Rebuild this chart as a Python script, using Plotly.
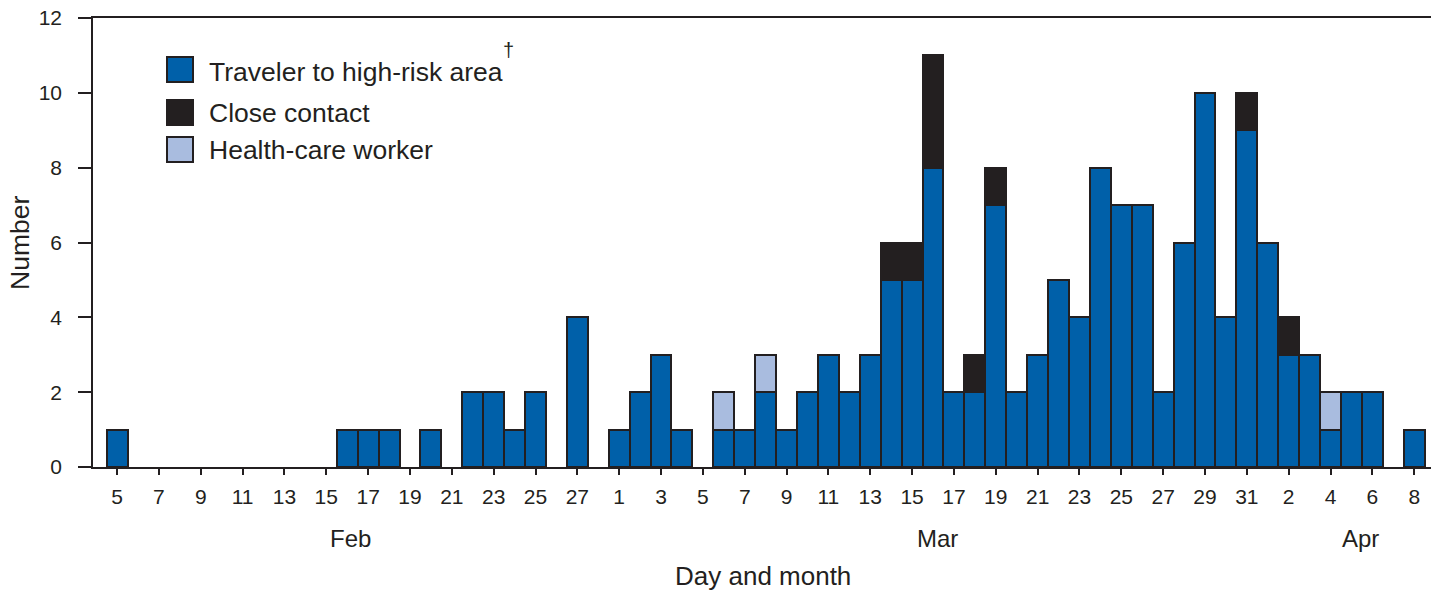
import plotly.graph_objects as go

# ---- data -------------------------------------------------------------
tick_labels = ["5", "7", "9", "11", "13", "15", "17", "19", "21", "23", "25", "27",
               "1", "3", "5", "7", "9", "11", "13", "15", "17", "19", "21", "23",
               "25", "27", "29", "31", "2", "4", "6", "8"]
month_labels = ["Feb", "Mar", "Apr"]

traveler = [1, 0, 0, 0, 0, 0, 0, 0, 0, 0, 0,
            1, 1, 1, 0, 1, 0, 2, 2, 1, 2, 0, 4, 0,
            1, 2, 3, 1, 0, 1, 1, 2, 1, 2, 3, 2, 3,
            5, 5, 8, 2, 2, 7, 2, 3, 5, 4, 8, 7, 7, 2,
            6, 10, 4, 9, 6, 3, 3, 1, 2, 2, 0, 1]
close_contact = [0] * 37 + [1, 1, 3, 0, 1, 1] + [0] * 11 + [1, 0, 1] + [0] * 6
health_care = [0] * 29 + [1, 0, 1] + [0] * 26 + [1] + [0] * 4

days = list(range(len(traveler)))

# ---- style ------------------------------------------------------------
OFF = 8                      # page body margin of the browser
W, H = 1439 - OFF, 590 - OFF
PL, PR, PT, PB = 93, 1432, 18, 467   # plot-area edges in page pixels
L, R, T, B = PL - OFF, W - (PR - OFF), PT - OFF, H - (PB - OFF)
FONT = "Liberation Sans, Arial, Helvetica, sans-serif"
INK = "#231f20"
BLUE = "#0060a9"
DARK = "#231f20"
LIGHT = "#a9bcdf"


def nz(vals):
    return [v if v else None for v in vals]


fig = go.Figure()
series = [("Traveler to high-risk area", traveler, BLUE),
          ("Close contact", close_contact, DARK),
          ("Health-care worker", health_care, LIGHT)]
for name, vals, col in series:
    fig.add_trace(go.Bar(x=days, y=nz(vals), name=name, width=1,
                         marker=dict(color=col, line=dict(color=INK, width=2)),
                         showlegend=False))

fig.update_layout(
    width=W, height=H, barmode="stack", bargap=0,
    margin=dict(l=L, r=R, t=T, b=B, autoexpand=False),
    plot_bgcolor="white", paper_bgcolor="white",
    font=dict(family=FONT, size=21, color=INK),
)
fig.update_xaxes(range=[-1.15, 62.85], tickmode="array",
                 tickvals=days[::2], ticktext=tick_labels,
                 ticks="outside", ticklen=6, tickwidth=1.5, tickcolor=INK,
                 ticklabelstandoff=4, ticklabeloverflow="allow",
                 showline=True, linecolor=INK, linewidth=1.5, mirror=True,
                 showgrid=False, zeroline=False,
                 tickfont=dict(size=21, color=INK))
fig.update_yaxes(range=[0, 12], tickmode="array", tickvals=list(range(0, 13, 2)),
                 ticks="outside", ticklen=13, tickwidth=1.5, tickcolor=INK,
                 ticklabelstandoff=12, ticklabeloverflow="allow",
                 showline=True, linecolor=INK, linewidth=1.5, mirror=True,
                 showgrid=False, zeroline=False,
                 tickfont=dict(size=21, color=INK))

pw, ph = PR - PL, PB - PT


def px(x):
    return (x - PL) / pw


def py(y):
    return (PB - y) / ph


ann = []
# axis titles
ann.append(dict(text="Day and month", x=px(763), y=py(576), xref="paper", yref="paper",
                showarrow=False, font=dict(size=26, color=INK), xanchor="center", yanchor="middle"))
ann.append(dict(text="Number", x=px(20), y=py(243), xref="paper", yref="paper",
                showarrow=False, textangle=-90, font=dict(size=26.5, color=INK),
                xanchor="center", yanchor="middle"))
# month labels
for m, xc in zip(month_labels, [350, 937, 1360]):
    ann.append(dict(text=m, x=px(xc), y=py(538), xref="paper", yref="paper",
                    showarrow=False, font=dict(size=24, color=INK),
                    xanchor="center", yanchor="middle"))

# manual legend
shapes = []
leg_rows = [(57, 82, 72, "Traveler to high-risk area", BLUE),
            (100, 125, 113, "Close contact", DARK),
            (137, 162, 150, "Health-care worker", LIGHT)]
for y0, y1, yt, txt, col in leg_rows:
    shapes.append(dict(type="rect", xref="paper", yref="paper",
                       x0=px(167), x1=px(193), y0=py(y1), y1=py(y0),
                       fillcolor=col, line=dict(color=INK, width=2)))
    ann.append(dict(text=txt, x=px(207), y=py(yt), xref="paper", yref="paper",
                    showarrow=False, font=dict(size=26.5, color=INK),
                    xanchor="left", yanchor="middle"))
# dagger footnote marker
ann.append(dict(text="†", x=px(509), y=py(50), xref="paper", yref="paper",
                showarrow=False, font=dict(size=20, color=INK),
                xanchor="center", yanchor="middle"))

fig.update_layout(annotations=ann, shapes=shapes)
fig.write_html("out.html")
